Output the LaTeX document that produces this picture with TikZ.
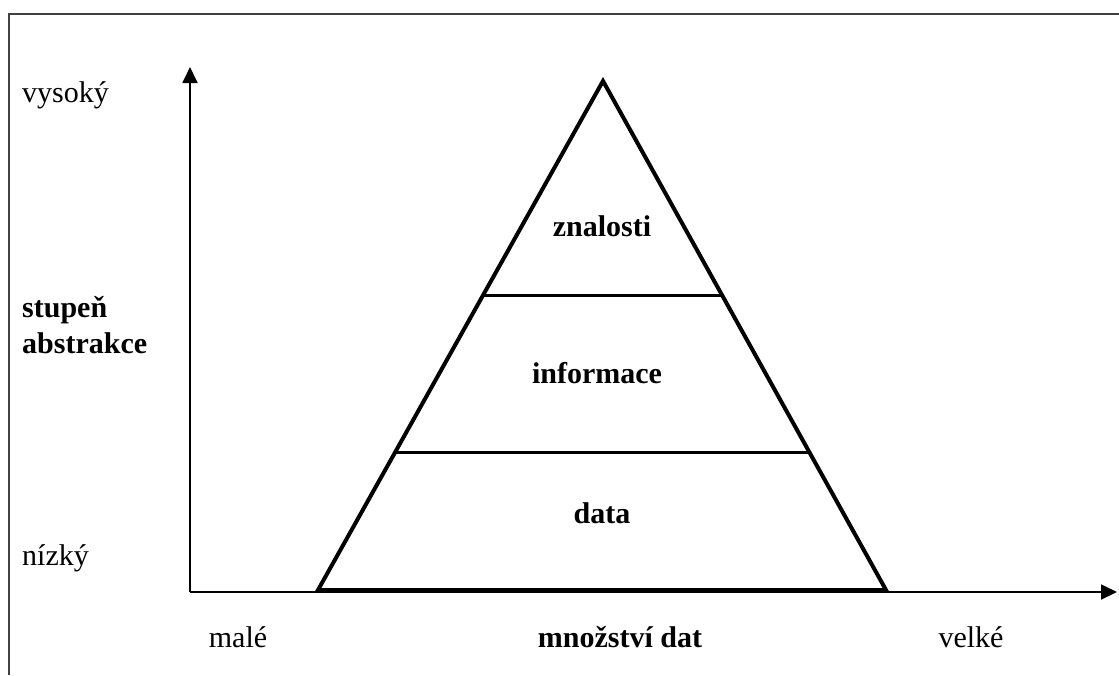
\documentclass[tikz,border=0pt]{standalone}
\usepackage{fontspec}
\setmainfont{Liberation Serif}
\usetikzlibrary{arrows.meta,calc}
\begin{document}
\begin{tikzpicture}[x=1pt,y=-1pt,
  label/.style={font=\fontsize{30}{36}\selectfont, inner sep=0pt},
  boldlabel/.style={label, font=\fontsize{30}{36}\selectfont\bfseries},
  axis/.style={line width=1.8pt, -{Triangle[length=16pt,width=15pt]}},
  layer/.style={line width=4pt},
  frame/.style={line width=1.5pt, draw=black!75}]
  \useasboundingbox (0,0) rectangle (1119,675);
  % open frame
  \draw[frame] (9,675) -- (9,14) -- (1119,14);

  % axes
  \coordinate (origin) at (190,592);
  \coordinate (ytip) at (190,67);
  \coordinate (xtip) at (1117,592);
  \draw[axis] (origin) -- (ytip);
  \draw[axis] (origin) -- (xtip);

  % pyramid
  \coordinate (apex) at (603,81);
  \coordinate (bl) at (318,590);
  \coordinate (br) at (886,590);
  \draw[layer] (bl) -- (apex) -- (br) -- cycle;
  \coordinate (l1a) at ($(apex)!0.4207!(bl)$);
  \coordinate (l1b) at ($(apex)!0.4207!(br)$);
  \coordinate (l2a) at ($(apex)!0.7302!(bl)$);
  \coordinate (l2b) at ($(apex)!0.7302!(br)$);
  \draw[line width=3pt] (l1a) -- (l1b);
  \draw[line width=3pt] (l2a) -- (l2b);

  % layer names
  \node[boldlabel, anchor=base] (zn) at (602,236) {znalosti};
  \node[boldlabel, anchor=base] (inf) at (597,383) {informace};
  \node[boldlabel, anchor=base] (dat) at (602,523) {data};

  % vertical axis labels
  \node[label, anchor=base west] (hi) at (22,102) {vysoký};
  \node[boldlabel, anchor=base west] (st) at (22,317) {stupeň};
  \node[boldlabel, anchor=base west] (ab) at (22,353) {abstrakce};
  \node[label, anchor=base west] (lo) at (22,565) {nízký};

  % horizontal axis labels
  \node[label, anchor=base] (sm) at (238,647) {malé};
  \node[boldlabel, anchor=base] (qt) at (620,647) {množství dat};
  \node[label, anchor=base] (bg) at (971,647) {velké};
\end{tikzpicture}
\end{document}
